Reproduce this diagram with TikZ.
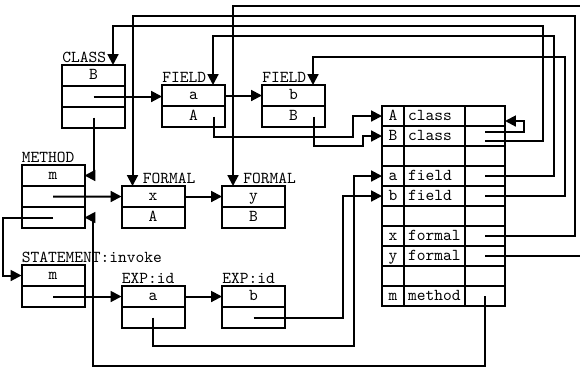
\documentclass[tikz,border=0pt]{standalone}
\usetikzlibrary{arrows.meta,calc,positioning}
\tikzset{
  cell/.style={draw, line width=1.2pt, minimum width=37.8pt, minimum height=12.6pt,
    inner sep=0pt, outer sep=0pt, font=\ttfamily, text height=7pt, text depth=2pt},
  tab/.style={draw, line width=1.2pt, minimum height=12pt, inner sep=0pt, outer sep=0pt,
    font=\ttfamily, text height=7pt, text depth=2pt},
  tag/.style={font=\ttfamily, anchor=base west, inner sep=0pt},
  ptr/.style={line width=1.2pt, -{Triangle[length=6.5pt,width=6.5pt]}},
}

\begin{document}
\begin{tikzpicture}[x=0.6pt,y=-0.6pt]
  \useasboundingbox (0,0) rectangle (580,369);
  % record boxes: top row placed, the rest stacked below
  \node[cell] (cls1) at (93.5,75.5) {B};
  \node[cell,below=0pt of cls1] (cls2) {};
  \node[cell,below=0pt of cls2] (cls3) {};
  \node[cell] (fa1) at (193.5,95.5) {a};
  \node[cell,below=0pt of fa1] (fa2) {A};
  \node[cell] (fb1) at (293.5,95.5) {b};
  \node[cell,below=0pt of fb1] (fb2) {B};
  \node[cell] (mth1) at (53,175.5) {m};
  \node[cell,below=0pt of mth1] (mth2) {};
  \node[cell,below=0pt of mth2] (mth3) {};
  \node[cell] (fx1) at (153,196.5) {x};
  \node[cell,below=0pt of fx1] (fx2) {A};
  \node[cell] (fy1) at (253.5,196.5) {y};
  \node[cell,below=0pt of fy1] (fy2) {B};
  \node[cell] (st1) at (53,275.5) {m};
  \node[cell,below=0pt of st1] (st2) {};
  \node[cell] (ea1) at (153,296.5) {a};
  \node[cell,below=0pt of ea1] (ea2) {};
  \node[cell] (eb1) at (253.5,296.5) {b};
  \node[cell,below=0pt of eb1] (eb2) {};
  % labels over the boxes
  \node[tag] (lcls) at ($(cls1.north west)+(0,-3)$) {CLASS};
  \node[tag] (lfa) at ($(fa1.north west)+(0,-3)$) {FIELD};
  \node[tag] (lfb) at ($(fb1.north west)+(0,-3)$) {FIELD};
  \node[tag] (lmth) at ($(mth1.north west)+(0,-3)$) {METHOD};
  \node[tag] (lfx) at ($(fx1.north west)+(21,-3)$) {FORMAL};
  \node[tag] (lfy) at ($(fy1.north west)+(21,-3)$) {FORMAL};
  \node[tag] (lst) at ($(st1.north west)+(0,-3)$) {STATEMENT:invoke};
  \node[tag] (lea) at ($(ea1.north west)+(0,-3)$) {EXP:id};
  \node[tag] (leb) at ($(eb1.north west)+(0,-3)$) {EXP:id};
  % symbol table, 10 rows of 20px
  \foreach \i/\k/\v in {1/A/class,2/B/class,3//,4/a/field,5/b/field,6//,7/x/formal,8/y/formal,9//,10/m/method}{
    \node[tab,minimum width=13.2pt] (sym\i) at (393,{96+20*\i}) {\k};
    \node[tab,right=0pt of sym\i,text width=31.6pt,inner xsep=2.5pt,align=left] (kind\i) {\v};
    \node[tab,right=0pt of kind\i,minimum width=24pt] (ptr\i) {};
  }
  % pointers between records
  \draw[ptr] (cls2.center) -- (cls2.center -| fa1.west);
  \draw[ptr] (cls3.center) |- (mth1.east);
  \draw[ptr] (fa1.east) -- (fb1.west);
  \draw[ptr] ($(fa2.center)+(20,0)$) |- ($(sym1.west)+(-29,21)$) |- (sym1.west);
  \draw[ptr] ($(fb2.center)+(20,0)$) |- ($(sym2.west)+(-19,10)$) |- (sym2.west);
  \draw[ptr] (mth2.center) -- (fx1.west);
  \draw[ptr] (mth3.center) -- ++(-50,0) |- (st1.west);
  \draw[ptr] (fx1.east) -- (fy1.west);
  \draw[ptr] (st2.center) -- (st2.center -| ea1.west);
  \draw[ptr] (ea1.east) -- (eb1.west);
  \draw[ptr] (ea2.center) |- ($(sym4.west)+(-28,170)$) |- (sym4.west);
  \draw[ptr] (eb2.center) -| ($(sym5.west)+(-39,0)$) -- (sym5.west);
  % pointers out of the table
  \draw[ptr] ($(ptr2.center)+(0,-4)$) -- ++(39,0) |- ($(ptr1.east)+(0,5)$);
  \draw[ptr] ($(ptr2.center)+(0,5)$) -| (543,26) -| ($(cls1.north east)+(-12,0)$);
  \draw[ptr] (ptr4.center) -| (554,36) -| ($(fa1.north east)+(-12,0)$);
  \draw[ptr] (ptr5.center) -| (565,57) -| ($(fb1.north east)+(-12,0)$);
  \draw[ptr] (ptr7.center) -| (575,16) -| ($(fx1.north west)+(11,0)$);
  \draw[ptr] (ptr8.center) -| (590,6) -| ($(fy1.north west)+(11,0)$);
  \draw[ptr] (ptr10.center) |- (93,366) |- (mth3.east);
\end{tikzpicture}
\end{document}
